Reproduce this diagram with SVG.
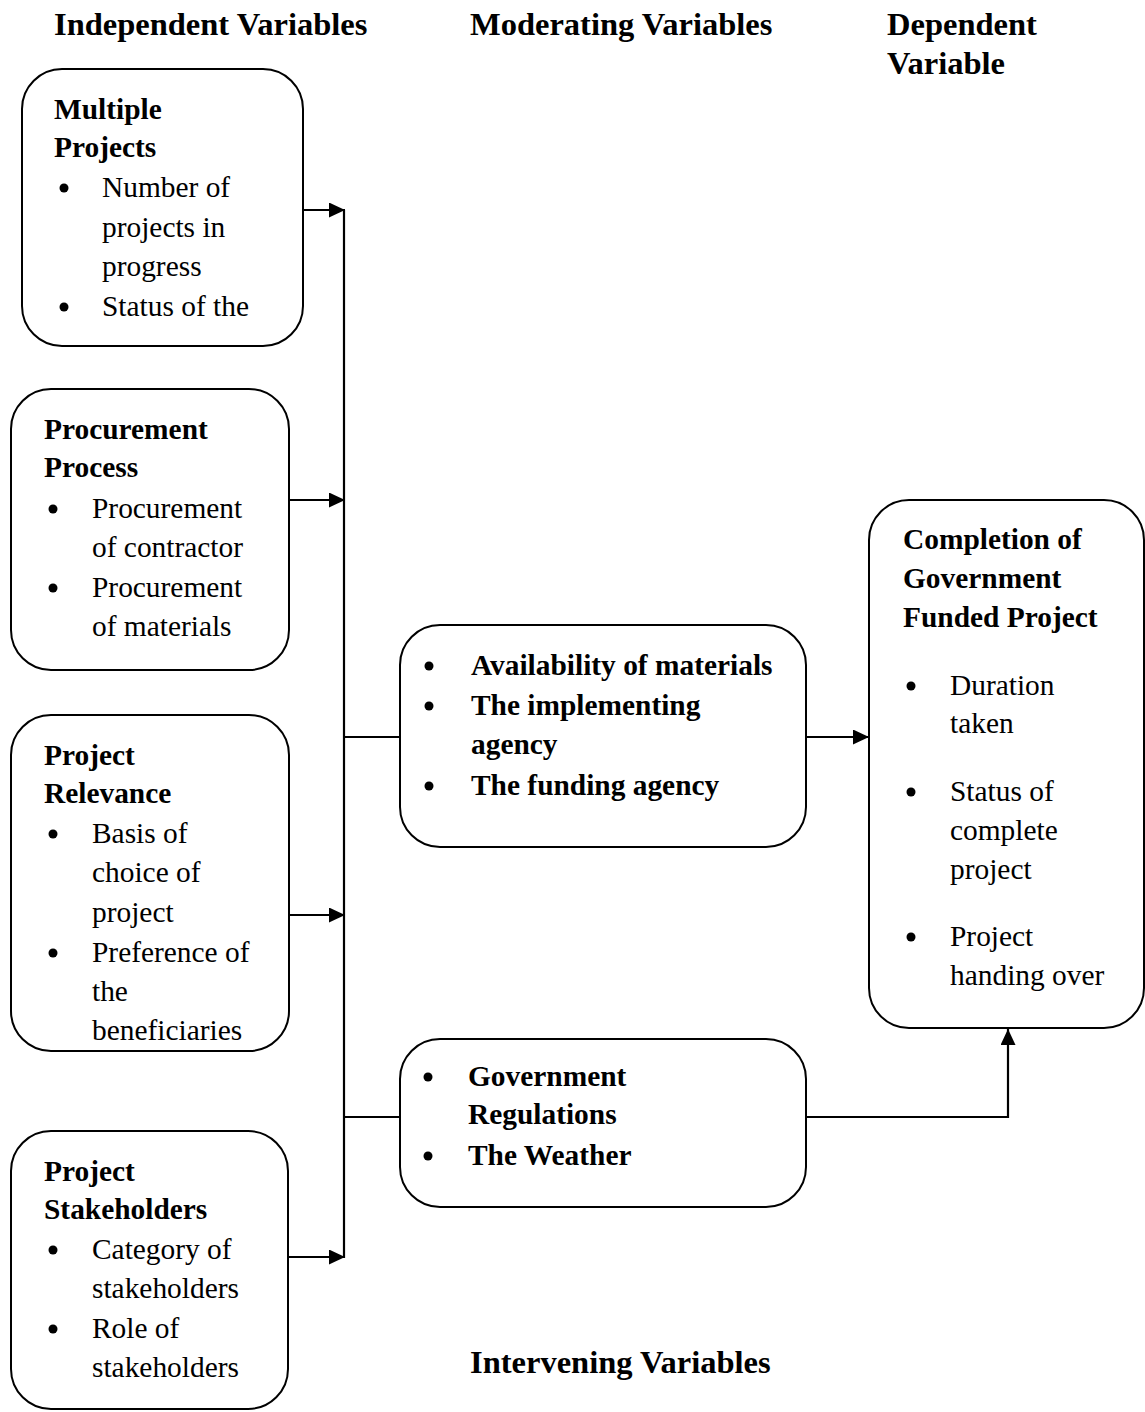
<svg xmlns="http://www.w3.org/2000/svg" width="1145" height="1412" viewBox="0 0 1145 1412">
<style>
text{font-family:"Liberation Serif","Times New Roman",serif;font-size:29.4px;fill:#000}
.h{font-weight:bold;font-size:32.5px}
.b{font-weight:bold}
.box{fill:#fff;stroke:#000;stroke-width:2}
.ln{fill:none;stroke:#000;stroke-width:2.2}
.dot{fill:#000}
</style>
<defs>
<marker id="ah" markerWidth="16" markerHeight="15" refX="16" refY="7.5" orient="auto" markerUnits="userSpaceOnUse">
<path d="M0,0 L16,7.5 L0,15 Z" fill="#000"/>
</marker>
</defs>
<rect width="1145" height="1412" fill="#fff"/>
<g id="headers">
<text class="h" x="54" y="35">Independent Variables</text>
<text class="h" x="470" y="35">Moderating Variables</text>
<text class="h" x="887" y="35">Dependent</text>
<text class="h" x="887" y="74">Variable</text>
<text class="h" x="470" y="1373">Intervening Variables</text>
</g>
<g id="connectors">
<line class="ln" x1="303" y1="210" x2="345" y2="210" marker-end="url(#ah)"/>
<line class="ln" x1="344" y1="210" x2="344" y2="1258"/>
<line class="ln" x1="289" y1="500" x2="345" y2="500" marker-end="url(#ah)"/>
<line class="ln" x1="289" y1="915" x2="345" y2="915" marker-end="url(#ah)"/>
<line class="ln" x1="289" y1="1257" x2="345" y2="1257" marker-end="url(#ah)"/>
<line class="ln" x1="344" y1="737" x2="400" y2="737"/>
<line class="ln" x1="806" y1="737" x2="869" y2="737" marker-end="url(#ah)"/>
<line class="ln" x1="344" y1="1117" x2="400" y2="1117"/>
<polyline class="ln" points="806,1117 1008,1117 1008,1029" marker-end="url(#ah)"/>
</g>
<g id="multiple-projects">
<rect class="box" x="22" y="69" width="281" height="277" rx="40"/>
<text class="b" x="54" y="119">Multiple</text>
<text class="b" x="54" y="157">Projects</text>
<circle class="dot" cx="64" cy="188" r="4.5"/>
<text x="102" y="197">Number of</text>
<text x="102" y="237">projects in</text>
<text x="102" y="276">progress</text>
<circle class="dot" cx="64" cy="307" r="4.5"/>
<text x="102" y="316">Status of the</text>
</g>
<g id="procurement-process">
<rect class="box" x="11" y="389" width="278" height="281" rx="40"/>
<text class="b" x="44" y="439">Procurement</text>
<text class="b" x="44" y="477">Process</text>
<circle class="dot" cx="53" cy="509" r="4.5"/>
<text x="92" y="518">Procurement</text>
<text x="92" y="557">of contractor</text>
<circle class="dot" cx="53" cy="588" r="4.5"/>
<text x="92" y="597">Procurement</text>
<text x="92" y="636">of materials</text>
</g>
<g id="project-relevance">
<rect class="box" x="11" y="715" width="278" height="336" rx="40"/>
<text class="b" x="44" y="765">Project</text>
<text class="b" x="44" y="803">Relevance</text>
<circle class="dot" cx="53" cy="834" r="4.5"/>
<text x="92" y="843">Basis of</text>
<text x="92" y="882">choice of</text>
<text x="92" y="922">project</text>
<circle class="dot" cx="53" cy="953" r="4.5"/>
<text x="92" y="962">Preference of</text>
<text x="92" y="1001">the</text>
<text x="92" y="1040">beneficiaries</text>
</g>
<g id="project-stakeholders">
<rect class="box" x="11" y="1131" width="277" height="278" rx="40"/>
<text class="b" x="44" y="1181">Project</text>
<text class="b" x="44" y="1219">Stakeholders</text>
<circle class="dot" cx="53" cy="1250" r="4.5"/>
<text x="92" y="1259">Category of</text>
<text x="92" y="1298">stakeholders</text>
<circle class="dot" cx="53" cy="1329" r="4.5"/>
<text x="92" y="1338">Role of</text>
<text x="92" y="1377">stakeholders</text>
</g>
<g id="moderating">
<rect class="box" x="400" y="625" width="406" height="222" rx="40"/>
<circle class="dot" cx="429" cy="666" r="4.5"/>
<text class="b" x="471" y="675">Availability of materials</text>
<circle class="dot" cx="429" cy="706" r="4.5"/>
<text class="b" x="471" y="715">The implementing</text>
<text class="b" x="471" y="754">agency</text>
<circle class="dot" cx="429" cy="786" r="4.5"/>
<text class="b" x="471" y="795">The funding agency</text>
</g>
<g id="intervening">
<rect class="box" x="400" y="1039" width="406" height="168" rx="40"/>
<circle class="dot" cx="428" cy="1077" r="4.5"/>
<text class="b" x="468" y="1086">Government</text>
<text class="b" x="468" y="1124">Regulations</text>
<circle class="dot" cx="428" cy="1156" r="4.5"/>
<text class="b" x="468" y="1165">The Weather</text>
</g>
<g id="dependent">
<rect class="box" x="869" y="500" width="275" height="528" rx="40"/>
<text class="b" x="903" y="549">Completion of</text>
<text class="b" x="903" y="588">Government</text>
<text class="b" x="903" y="627">Funded Project</text>
<circle class="dot" cx="911" cy="686" r="4.5"/>
<text x="950" y="695">Duration</text>
<text x="950" y="733">taken</text>
<circle class="dot" cx="911" cy="792" r="4.5"/>
<text x="950" y="801">Status of</text>
<text x="950" y="840">complete</text>
<text x="950" y="879">project</text>
<circle class="dot" cx="911" cy="937" r="4.5"/>
<text x="950" y="946">Project</text>
<text x="950" y="985">handing over</text>
</g>
</svg>
